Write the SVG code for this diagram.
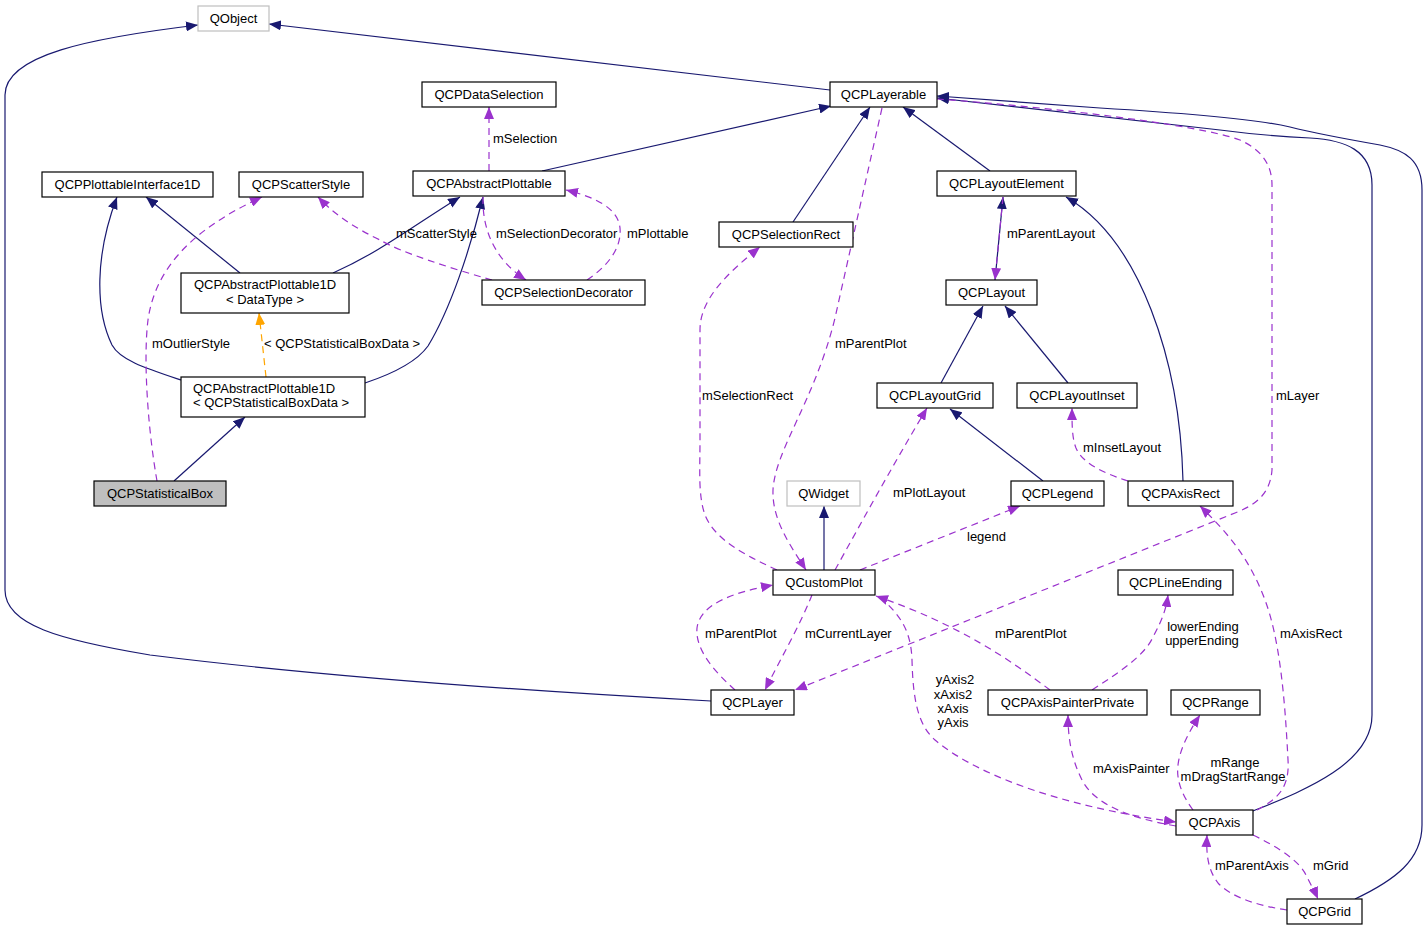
<svg xmlns="http://www.w3.org/2000/svg" width="1428" height="931" viewBox="0 0 1428 931">
<style>
.n rect{fill:#fff;stroke:#000;stroke-width:1.2}
.n.g rect{stroke:#bfbfbf}
.n.h rect{fill:#bfbfbf}
text{font-family:"Liberation Sans",Arial,sans-serif;font-size:13px;fill:#000}
.n text{text-anchor:middle}
.inh{fill:none;stroke:#191970;stroke-width:1.2;marker-end:url(#an)}
.use{fill:none;stroke:#9a32cd;stroke-width:1.2;stroke-dasharray:7,5;marker-end:url(#ap)}
.tpl{fill:none;stroke:#ffa500;stroke-width:1.2;stroke-dasharray:7,5;marker-end:url(#ao)}
.lbl{text-anchor:start}
.lblm{text-anchor:middle}
</style>
<defs>
<marker id="an" viewBox="0 0 12 10" refX="12" refY="5" markerWidth="12" markerHeight="10" markerUnits="userSpaceOnUse" orient="auto"><path d="M0,0 L12,5 L0,10 z" fill="#191970"/></marker>
<marker id="ap" viewBox="0 0 12 10" refX="12" refY="5" markerWidth="12" markerHeight="10" markerUnits="userSpaceOnUse" orient="auto"><path d="M0,0 L12,5 L0,10 z" fill="#9a32cd"/></marker>
<marker id="ao" viewBox="0 0 12 10" refX="12" refY="5" markerWidth="12" markerHeight="10" markerUnits="userSpaceOnUse" orient="auto"><path d="M0,0 L12,5 L0,10 z" fill="#ffa500"/></marker>
</defs>
<g id="connectors">
<path class="inh" d="M830,90 L269,24"/>
<path class="inh" d="M711,701 C600,695 350,680 150,655 C60,640 5,625 5,590 L5,95 C5,55 90,38 198,25"/>
<path class="inh" d="M793,222 L870,107"/>
<path class="inh" d="M990,171 L903,107"/>
<path class="inh" d="M542,171 L831,106"/>
<path class="inh" d="M1183,481 C1180,360 1140,240 1066,197"/>
<path class="inh" d="M995,280 L1003,197"/>
<path class="inh" d="M941,383 L983,306"/>
<path class="inh" d="M1068,383 L1005,306"/>
<path class="inh" d="M1043,481 L950,409"/>
<path class="inh" d="M824,570 L824,506"/>
<path class="inh" d="M1253,811 C1300,792 1372,765 1372,715 L1372,185 C1372,150 1345,140 1310,138 C1270,136 1250,134 1220,130 L937,98"/>
<path class="inh" d="M1355,899 C1395,880 1422,860 1422,825 L1422,190 C1422,160 1405,150 1380,145 C1340,138 1310,132 1290,127 C1260,120 1200,114 1100,108 L937,96"/>
<path class="inh" d="M240,273 L146,197"/>
<path class="inh" d="M333,273 C380,252 410,228 460,197"/>
<path class="inh" d="M181,380 C145,368 120,360 112,345 C95,310 95,255 117,197"/>
<path class="inh" d="M365,383 C395,373 418,360 428,346 C450,310 470,250 483,197"/>
<path class="tpl" d="M266,377 L259,313"/>
<path class="inh" d="M174,481 L245,417"/>
<path class="use" d="M489,171 L489,107"/>
<path class="use" d="M483,197 C482,230 495,260 526,280"/>
<path class="use" d="M587,280 C605,268 622,250 620,228 C618,208 595,197 566,190"/>
<path class="use" d="M492,280 C450,268 400,252 380,240 C355,228 335,215 318,197"/>
<path class="use" d="M157,481 C148,430 143,360 148,320 C155,270 190,230 262,197"/>
<path class="use" d="M882,108 L835,318 C815,400 775,450 773,490 C772,520 790,545 806,570"/>
<path class="use" d="M937,99 C1050,107 1200,125 1240,140 C1262,150 1272,165 1272,185 L1272,470 C1270,495 1255,505 1235,513 L795,690"/>
<path class="use" d="M777,570 C745,555 715,540 705,515 C698,495 700,470 700,440 L700,330 C700,300 725,275 760,247"/>
<path class="use" d="M835,570 C860,525 890,470 927,408"/>
<path class="use" d="M860,570 L1020,506"/>
<path class="use" d="M735,690 C715,672 695,650 697,628 C700,605 730,593 773,585"/>
<path class="use" d="M812,595 C800,625 780,660 765,690"/>
<path class="use" d="M1050,690 C1010,660 960,625 876,596"/>
<path class="use" d="M880,597 C900,615 911,630 912,660 C913,700 918,725 935,740 C970,770 1050,805 1176,822"/>
<path class="use" d="M1176,826 C1130,818 1095,805 1082,780 C1072,760 1068,740 1068,715"/>
<path class="use" d="M1092,690 C1120,672 1145,655 1153,637 C1162,620 1166,610 1168,595"/>
<path class="use" d="M1193,810 C1182,795 1176,780 1178,765 C1180,748 1190,730 1200,715"/>
<path class="use" d="M1257,810 C1275,800 1290,790 1288,760 C1285,700 1280,640 1265,600 C1250,560 1230,535 1200,506"/>
<path class="use" d="M1128,481 C1100,472 1082,462 1076,448 C1072,438 1072,425 1072,408"/>
<path class="use" d="M1253,835 C1280,848 1300,862 1306,875 C1311,885 1315,892 1318,899"/>
<path class="use" d="M1287,910 C1260,906 1232,898 1218,883 C1208,870 1206,855 1207,835"/>
<path class="use" d="M1003,197 L995,280"/>
<text class="lbl" x="493" y="143">mSelection</text>
<text class="lbl" x="396" y="238">mScatterStyle</text>
<text class="lbl" x="496" y="238">mSelectionDecorator</text>
<text class="lbl" x="627" y="238">mPlottable</text>
<text class="lbl" x="152" y="348">mOutlierStyle</text>
<text class="lbl" x="264" y="348">&lt; QCPStatisticalBoxData &gt;</text>
<text class="lbl" x="835" y="348">mParentPlot</text>
<text class="lbl" x="702" y="400">mSelectionRect</text>
<text class="lbl" x="1007" y="238">mParentLayout</text>
<text class="lbl" x="1276" y="400">mLayer</text>
<text class="lbl" x="1083" y="452">mInsetLayout</text>
<text class="lbl" x="893" y="497">mPlotLayout</text>
<text class="lbl" x="967" y="541">legend</text>
<text class="lbl" x="705" y="638">mParentPlot</text>
<text class="lbl" x="805" y="638">mCurrentLayer</text>
<text class="lbl" x="995" y="638">mParentPlot</text>
<text class="lblm" x="1203" y="631">lowerEnding</text>
<text class="lblm" x="1202" y="645">upperEnding</text>
<text class="lbl" x="1280" y="638">mAxisRect</text>
<text class="lblm" x="955" y="684">yAxis2</text>
<text class="lblm" x="953" y="699">xAxis2</text>
<text class="lblm" x="953" y="713">xAxis</text>
<text class="lblm" x="953" y="727">yAxis</text>
<text class="lbl" x="1093" y="773">mAxisPainter</text>
<text class="lblm" x="1235" y="767">mRange</text>
<text class="lblm" x="1233" y="781">mDragStartRange</text>
<text class="lbl" x="1215" y="870">mParentAxis</text>
<text class="lbl" x="1313" y="870">mGrid</text>
</g>
<g id="QObject" class="n g"><rect x="198" y="6" width="71" height="25"/><text x="233.5" y="23">QObject</text></g>
<g id="QCPDataSelection" class="n"><rect x="422" y="82" width="134" height="25"/><text x="489" y="99">QCPDataSelection</text></g>
<g id="QCPLayerable" class="n"><rect x="830" y="82" width="107" height="25"/><text x="883.5" y="99">QCPLayerable</text></g>
<g id="QCPPlottableInterface1D" class="n"><rect x="42" y="172" width="171" height="25"/><text x="127.5" y="189">QCPPlottableInterface1D</text></g>
<g id="QCPScatterStyle" class="n"><rect x="239" y="172" width="124" height="25"/><text x="301" y="189">QCPScatterStyle</text></g>
<g id="QCPAbstractPlottable" class="n"><rect x="413" y="171" width="152" height="25"/><text x="489" y="188">QCPAbstractPlottable</text></g>
<g id="QCPLayoutElement" class="n"><rect x="937" y="171" width="139" height="25"/><text x="1006.5" y="188">QCPLayoutElement</text></g>
<g id="QCPSelectionRect" class="n"><rect x="719" y="222" width="134" height="25"/><text x="786" y="239">QCPSelectionRect</text></g>
<g id="QCPAbstractPlottable1D_DataType" class="n"><rect x="181" y="273" width="168" height="40"/><text x="265" y="289">QCPAbstractPlottable1D</text><text x="265" y="304">&lt; DataType &gt;</text></g>
<g id="QCPSelectionDecorator" class="n"><rect x="482" y="280" width="163" height="25"/><text x="563.5" y="297">QCPSelectionDecorator</text></g>
<g id="QCPLayout" class="n"><rect x="946" y="280" width="91" height="25"/><text x="991.5" y="297">QCPLayout</text></g>
<g id="QCPAbstractPlottable1D_QCPStatisticalBoxData" class="n"><rect x="181" y="377" width="184" height="40"/><text x="193" y="393" style="text-anchor:start">QCPAbstractPlottable1D</text><text x="193" y="407" style="text-anchor:start">&lt; QCPStatisticalBoxData &gt;</text></g>
<g id="QCPLayoutGrid" class="n"><rect x="877" y="383" width="116" height="25"/><text x="935" y="400">QCPLayoutGrid</text></g>
<g id="QCPLayoutInset" class="n"><rect x="1017" y="383" width="120" height="25"/><text x="1077" y="400">QCPLayoutInset</text></g>
<g id="QCPStatisticalBox" class="n h"><rect x="94" y="481" width="132" height="25"/><text x="160" y="498">QCPStatisticalBox</text></g>
<g id="QWidget" class="n g"><rect x="787" y="481" width="73" height="25"/><text x="823.5" y="498">QWidget</text></g>
<g id="QCPLegend" class="n"><rect x="1011" y="481" width="93" height="25"/><text x="1057.5" y="498">QCPLegend</text></g>
<g id="QCPAxisRect" class="n"><rect x="1128" y="481" width="105" height="25"/><text x="1180.5" y="498">QCPAxisRect</text></g>
<g id="QCustomPlot" class="n"><rect x="773" y="570" width="102" height="25"/><text x="824" y="587">QCustomPlot</text></g>
<g id="QCPLineEnding" class="n"><rect x="1118" y="570" width="115" height="25"/><text x="1175.5" y="587">QCPLineEnding</text></g>
<g id="QCPLayer" class="n"><rect x="711" y="690" width="83" height="25"/><text x="752.5" y="707">QCPLayer</text></g>
<g id="QCPAxisPainterPrivate" class="n"><rect x="988" y="690" width="159" height="25"/><text x="1067.5" y="707">QCPAxisPainterPrivate</text></g>
<g id="QCPRange" class="n"><rect x="1171" y="690" width="89" height="25"/><text x="1215.5" y="707">QCPRange</text></g>
<g id="QCPAxis" class="n"><rect x="1176" y="810" width="77" height="25"/><text x="1214.5" y="827">QCPAxis</text></g>
<g id="QCPGrid" class="n"><rect x="1287" y="899" width="75" height="25"/><text x="1324.5" y="916">QCPGrid</text></g>
</svg>
